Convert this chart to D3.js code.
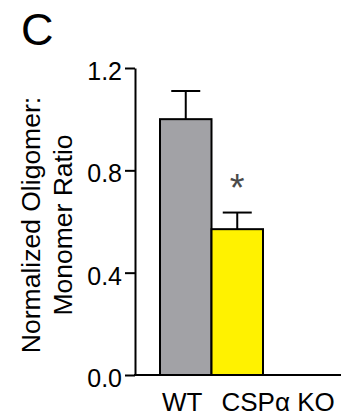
<!DOCTYPE html>
<html>
<head>
<meta charset="utf-8">
<title>Oligomer ratio</title>
<style>
  body { margin: 0; background: #fff; }
  svg { display: block; font-family: "Liberation Sans", Arial, sans-serif; }
  .axis path, .axis line { stroke: #000; stroke-width: 2px; fill: none; }
  .axis text { font-size: 25px; fill: #000; }
</style>
</head>
<body>
<svg width="341" height="418"></svg>
<script src="https://d3js.org/d3.v7.min.js"></script>
<script>
// data
var groups = ["WT", "CSPα KO"];
var means = [1.0, 0.57];
var errors = [0.11, 0.065];
var colors = ["#a2a2a6", "#fff200"];
var yTicks = [0.0, 0.4, 0.8, 1.2];
var stars = ["", "*"];

var svg = d3.select("svg");

// scales
var y = d3.scaleLinear().domain([0, 1.2]).range([375, 68]);
var x = d3.scaleBand().domain(groups).range([160, 263]).padding(0);

// panel letter
svg.append("text")
  .attr("x", 21).attr("y", 45)
  .style("font-size", "45px")
  .text("C");

// y axis
svg.append("g")
  .attr("class", "axis")
  .attr("transform", "translate(135,0)")
  .call(d3.axisLeft(y).tickValues(yTicks).tickSize(10).tickSizeOuter(0)
    .tickFormat(d3.format(".1f")))
  .call(function(g) {
    g.selectAll("text").attr("x", -13).attr("dy", "0.46em");
  });

// bars
svg.selectAll(".bar")
  .data(means)
  .enter().append("rect")
  .attr("class", "bar")
  .attr("x", function(d, i) { return x(groups[i]); })
  .attr("y", function(d) { return y(d); })
  .attr("width", x.bandwidth())
  .attr("height", function(d) { return y(0) - y(d); })
  .attr("fill", function(d, i) { return colors[i]; })
  .attr("stroke", "#000")
  .attr("stroke-width", 2);

// error bars
var capW = 29;
var eb = svg.selectAll(".err")
  .data(means)
  .enter().append("g")
  .attr("class", "err")
  .attr("stroke", "#000")
  .attr("stroke-width", 2);
eb.append("line")
  .attr("x1", function(d, i) { return x(groups[i]) + x.bandwidth() / 2; })
  .attr("x2", function(d, i) { return x(groups[i]) + x.bandwidth() / 2; })
  .attr("y1", function(d) { return y(d); })
  .attr("y2", function(d, i) { return y(d + errors[i]); });
eb.append("line")
  .attr("x1", function(d, i) { return x(groups[i]) + x.bandwidth() / 2 - capW / 2; })
  .attr("x2", function(d, i) { return x(groups[i]) + x.bandwidth() / 2 + capW / 2; })
  .attr("y1", function(d, i) { return y(d + errors[i]); })
  .attr("y2", function(d, i) { return y(d + errors[i]); });

// significance
svg.selectAll(".star")
  .data(means)
  .enter().append("text")
  .attr("class", "star")
  .attr("x", function(d, i) { return x(groups[i]) + x.bandwidth() / 2; })
  .attr("y", function(d, i) { return y(d + errors[i]) - 12; })
  .attr("text-anchor", "middle")
  .style("font-size", "38px")
  .style("fill", "#4a4a4a")
  .text(function(d, i) { return stars[i]; });

// x axis line
svg.append("line")
  .attr("x1", 134).attr("x2", 341)
  .attr("y1", y(0)).attr("y2", y(0))
  .attr("stroke", "#000").attr("stroke-width", 2);

// x labels (offset from bar left edge as in original)
var labelDx = [2, 10];
svg.selectAll(".xlab")
  .data(groups)
  .enter().append("text")
  .attr("class", "xlab")
  .attr("x", function(d, i) { return x(d) + labelDx[i]; })
  .attr("y", 411)
  .style("font-size", "26px")
  .text(function(d) { return d; });

// y label
var ylab = svg.append("text")
  .attr("transform", "translate(40,225) rotate(-90)")
  .attr("text-anchor", "middle")
  .style("font-size", "26.5px");
ylab.append("tspan").attr("x", 0).attr("y", 0).text("Normalized Oligomer:");
ylab.append("tspan").attr("x", 0).attr("y", 32).text("Monomer Ratio");
</script>
</body>
</html>
